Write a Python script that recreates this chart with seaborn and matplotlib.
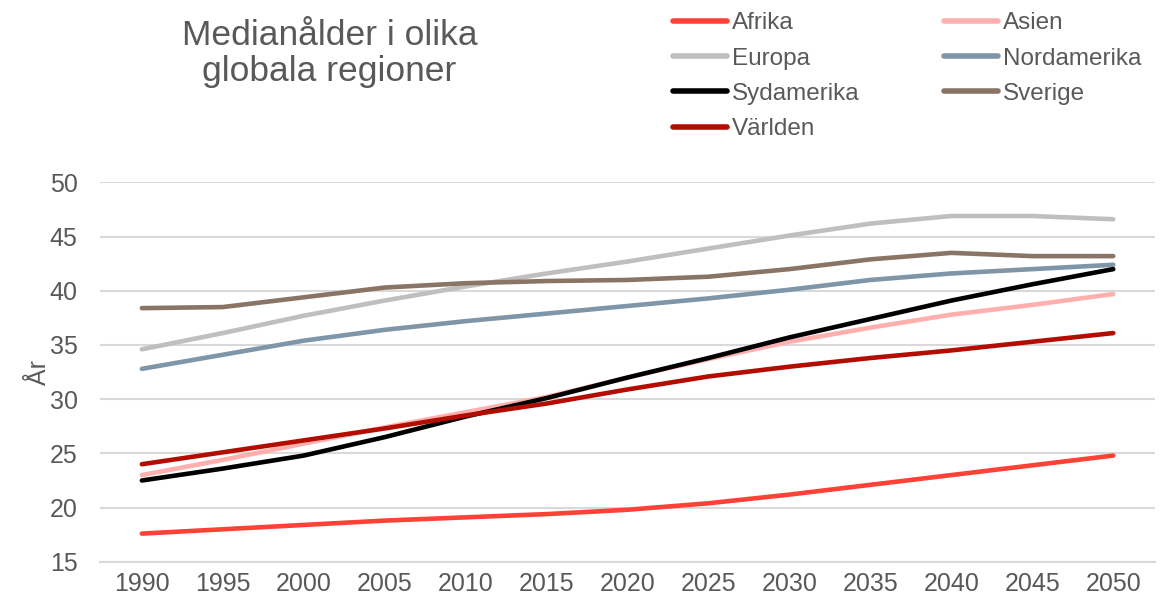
import numpy as np
import pandas as pd
import matplotlib
matplotlib.use("Agg")
import matplotlib.pyplot as plt
import seaborn as sns

# median age per region
years = [1990, 1995, 2000, 2005, 2010, 2015, 2020, 2025, 2030, 2035, 2040, 2045, 2050]
afrika = [17.6, 18.0, 18.4, 18.8, 19.1, 19.4, 19.8, 20.4, 21.2, 22.1, 23.0, 23.9, 24.8]
asien = [23.0, 24.4, 25.9, 27.4, 28.8, 30.2, 32.0, 33.7, 35.3, 36.6, 37.8, 38.7, 39.7]
europa = [34.6, 36.1, 37.7, 39.1, 40.4, 41.6, 42.7, 43.9, 45.1, 46.2, 46.9, 46.9, 46.6]
nordamerika = [32.8, 34.1, 35.4, 36.4, 37.2, 37.9, 38.6, 39.3, 40.1, 41.0, 41.6, 42.0, 42.4]
sydamerika = [22.5, 23.6, 24.8, 26.5, 28.4, 30.1, 32.0, 33.8, 35.7, 37.4, 39.1, 40.6, 42.0]
sverige = [38.4, 38.5, 39.4, 40.3, 40.7, 40.9, 41.0, 41.3, 42.0, 42.9, 43.5, 43.2, 43.2]
varlden = [24.0, 25.1, 26.2, 27.3, 28.5, 29.6, 30.9, 32.1, 33.0, 33.8, 34.5, 35.3, 36.1]

regions = ["Afrika", "Asien", "Europa", "Nordamerika", "Sydamerika", "Sverige", "Världen"]
series = [afrika, asien, europa, nordamerika, sydamerika, sverige, varlden]
colors = ["#ff4136", "#ffb0ae", "#bfbfbf", "#7f95a8", "#000000", "#8a7465", "#b30c00"]

df = pd.DataFrame({
    "År": np.tile(years, len(regions)),
    "Median": np.concatenate(series),
    "Region": np.repeat(regions, len(years)),
})

sns.set_style("white")
plt.rcParams["font.family"] = ["Liberation Sans", "DejaVu Sans"]
grey = "#595959"

fig = plt.figure(figsize=(11.6, 6.08), dpi=100)
ax = fig.add_axes([0.086, 0.076, 0.91, 0.624])

sns.lineplot(data=df, x="År", y="Median", hue="Region", hue_order=regions,
             palette=dict(zip(regions, colors)), linewidth=3.3, ax=ax,
             solid_capstyle="round", zorder=3)

ax.set_xlim(1987.4, 2052.6)
ax.set_ylim(15, 50)
ax.set_xticks(years)
ax.set_yticks(range(15, 51, 5))
ax.yaxis.grid(True, color="#d9d9d9", linewidth=1.5)
ax.set_axisbelow(True)
for s in ["top", "right", "left"]:
    ax.spines[s].set_visible(False)
ax.spines["bottom"].set_color("#d9d9d9")
ax.spines["bottom"].set_linewidth(1.5)
ax.tick_params(axis="both", length=0, labelsize=18, colors=grey)
ax.tick_params(axis="x", pad=7)
ax.tick_params(axis="y", pad=16)
ax.set_xlabel("")
ax.set_ylabel("År", fontsize=18, color=grey, labelpad=-1)

fig.text(0.284, 0.912, "Medianålder i olika\nglobala regioner", ha="center", va="center",
         fontsize=25.5, color=grey, linespacing=1.12)

# legend is laid out row-wise in the reference, matplotlib fills columns first
handles, labels = ax.get_legend_handles_labels()
order = [0, 2, 4, 6, 1, 3, 5]
leg = ax.legend([handles[i] for i in order], [labels[i] for i in order],
                ncol=2, frameon=False, fontsize=17.5, loc="upper left",
                bbox_to_anchor=(0.570, 1.0), bbox_transform=fig.transFigure,
                handlelength=2.2, handletextpad=0.2, columnspacing=3.5,
                labelspacing=0.55, borderpad=0)
for t in leg.get_texts():
    t.set_color(grey)
for h in leg.get_lines():
    h.set_linewidth(4)
    h.set_solid_capstyle("round")

fig.savefig("out.png", dpi=100)
